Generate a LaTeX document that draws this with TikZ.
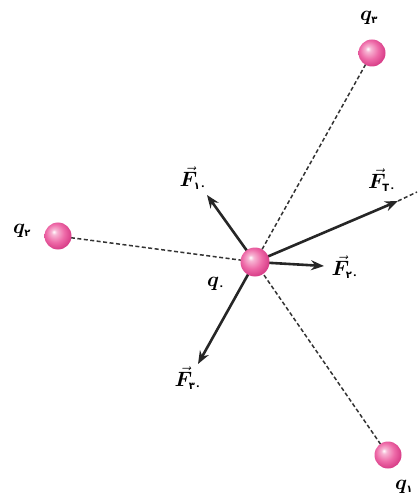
\documentclass[tikz,border=0pt]{standalone}
\usepackage{amsmath}
\usepackage{bm}
\usepackage{fontspec}
\newfontfamily\fa{DejaVu Sans}
\usetikzlibrary{arrows.meta}
\definecolor{pinkA}{HTML}{F7B6D4}
\definecolor{pinkB}{HTML}{EE6AA8}
\definecolor{pinkC}{HTML}{D83E88}
\definecolor{pinkD}{HTML}{E97AB0}
\pgfdeclareradialshading{pinkball}{\pgfpoint{-8bp}{8bp}}{color(0bp)=(white); color(5bp)=(pinkA); color(17bp)=(pinkB); color(28bp)=(pinkC); color(33bp)=(pinkD); color(50bp)=(pinkD)}
\newcommand{\fasub}[1]{\mbox{\fa\bfseries\fontsize{10}{10}\selectfont #1}}
\newcommand{\fvec}[1]{$\vec{\bm{F}}_{\fasub{#1}}$}
\newcommand{\qlab}[1]{$\bm{q}_{\fasub{#1}}$}
\begin{document}
\begin{tikzpicture}[x=1pt,y=-1pt,
  charge/.style={circle,minimum size=27pt,inner sep=0pt,shading=pinkball},
  link/.style={dash pattern=on 4pt off 2.5pt,line width=1.5pt,draw=black!80},
  force/.style={line width=2.6pt,draw=black!85,-{Stealth[length=13pt,width=10pt]}},
  lab/.style={font=\fontsize{20.74}{21}\selectfont,inner sep=0pt}]
\useasboundingbox (0,0) rectangle (417,502);
\coordinate (edge) at (417,192);
\coordinate (t10) at (207,195);
\coordinate (t30) at (198,364);
\coordinate (t20) at (324,266);
\coordinate (tT) at (398,201);
% dashed links
\draw[link] (58,236) coordinate (p2) -- (255,262) coordinate (p0);
\draw[link] (372,53) coordinate (p3) -- (p0);
\draw[link] (388,455) coordinate (p1) -- (p0);
\draw[link] (tT) -- (edge);
% forces
\draw[force] (p0) -- (t10);
\draw[force] (p0) -- (t30);
\draw[force] (p0) -- (t20);
\draw[force] (p0) -- (tT);
% charges
\node[charge,minimum size=29pt] (q0) at (p0) {};
\node[charge] (q1) at (p1) {};
\node[charge] (q2) at (p2) {};
\node[charge] (q3) at (p3) {};
% labels
\node[lab] (l0) at (216,284) {\qlab{۰}};
\node[lab] (l1) at (404,487) {\qlab{۱}};
\node[lab] (l2) at (22,231) {\qlab{۲}};
\node[lab] (l3) at (369,18) {\qlab{۳}};
\node[lab] (f10) at (193,178) {\fvec{۱۰}};
\node[lab] (fT) at (382,180) {\fvec{T۰}};
\node[lab] (f20) at (345,267) {\fvec{۲۰}};
\node[lab] (f30) at (188,378) {\fvec{۳۰}};
\end{tikzpicture}
\end{document}
